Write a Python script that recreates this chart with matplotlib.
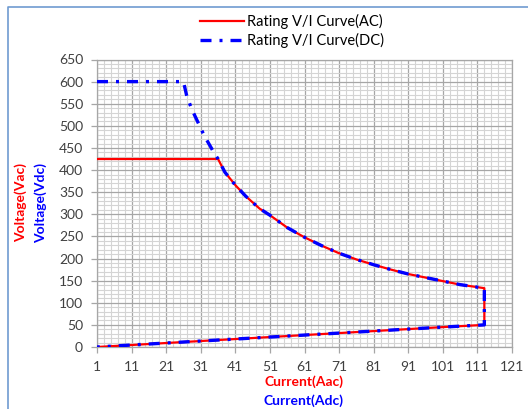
import numpy as np
import matplotlib
matplotlib.use("Agg")
import matplotlib.pyplot as plt
from matplotlib.ticker import FixedLocator
from matplotlib.lines import Line2D

plt.rcParams['font.family'] = ['Lato', 'DejaVu Sans']

# values
ac_current = [1, 36, 38, 41, 44, 48, 51, 56, 61, 66, 71, 76, 81, 86, 91, 96, 101, 106, 113,
              113, 101, 81, 61, 41, 21, 1]
ac_voltage = [425, 425, 395, 366, 341, 313, 298, 270, 248, 229, 212, 198, 186, 175, 165, 157, 149, 141, 133,
              50, 45, 36, 27, 18, 9, 0]

dc_current = [1, 26, 27, 28.5, 32, 34.7, 36, 38, 41, 44, 48, 51, 56, 61, 66, 71, 76, 81, 86, 91, 96, 101, 106, 113,
              113, 101, 81, 61, 41, 21, 1]
dc_voltage = [600, 600, 566, 536, 478, 441, 425, 395, 366, 341, 313, 298, 270, 248, 229, 212, 198, 186, 175, 165, 157, 149, 141, 133,
              50, 45, 36, 27, 18, 9, 0]

x_ticks = list(range(1, 122, 10))
y_ticks = list(range(0, 651, 50))

fig = plt.figure(figsize=(5.28, 4.09), dpi=100)
ax = fig.add_axes([97 / 528, 1 - 347 / 409, (512 - 97) / 528, (347 - 59.5) / 409])

ax.plot(ac_current, ac_voltage, color='#ff0000', lw=1.6, label='Rating V/I Curve(AC)', zorder=3)
ax.plot(dc_current, dc_voltage, color='#0000ff', lw=2.4, linestyle=(0, (3.3, 2.4, 0.9, 2.4)),
        label='Rating V/I Curve(DC)', zorder=4)

ax.set_xlim(1, 121)
ax.set_ylim(0, 650)
ax.xaxis.set_major_locator(FixedLocator(x_ticks))
ax.xaxis.set_minor_locator(FixedLocator(np.arange(1, 122, 2)))
ax.yaxis.set_major_locator(FixedLocator(y_ticks))
ax.yaxis.set_minor_locator(FixedLocator(np.arange(0, 651, 10)))

ax.grid(which='minor', color='#d4d4d4', lw=0.8)
ax.grid(which='major', color='#a6a6a6', lw=0.9)
ax.set_axisbelow(True)
for s in ax.spines.values():
    s.set_color('#a6a6a6')
    s.set_linewidth(0.9)

ax.tick_params(which='major', direction='out', length=4, width=0.9, color='#a6a6a6',
               labelsize=10, labelcolor='#404040', pad=6)
ax.tick_params(which='minor', length=0)

# axis titles, two colours each
fig.text(21 / 528, 1 - 203 / 409, 'Voltage(Vac)', color='#ff0000', fontsize=10, fontweight='bold',
         rotation=90, ha='center', va='center')
fig.text(41 / 528, 1 - 203 / 409, 'Voltage(Vdc)', color='#0000ff', fontsize=10, fontweight='bold',
         rotation=90, ha='center', va='center')
fig.text(304 / 528, 1 - 382 / 409, 'Current(Aac)', color='#ff0000', fontsize=10, fontweight='bold',
         ha='center', va='center')
fig.text(304 / 528, 1 - 401 / 409, 'Current(Adc)', color='#0000ff', fontsize=10, fontweight='bold',
         ha='center', va='center')

fig.legend(loc='upper center', bbox_to_anchor=(292 / 528, 1 - 8 / 409), frameon=False, fontsize=10.5,
           handlelength=3.0, handletextpad=0.2, labelspacing=0.3, borderaxespad=0)

# chart border (top and left edges visible)
fig.add_artist(Line2D([8 / 528, 8 / 528, 1], [0, 1 - 7 / 409, 1 - 7 / 409], transform=fig.transFigure,
                      color='#6f9bd1', lw=1.2))

fig.savefig('out.png', dpi=100)
